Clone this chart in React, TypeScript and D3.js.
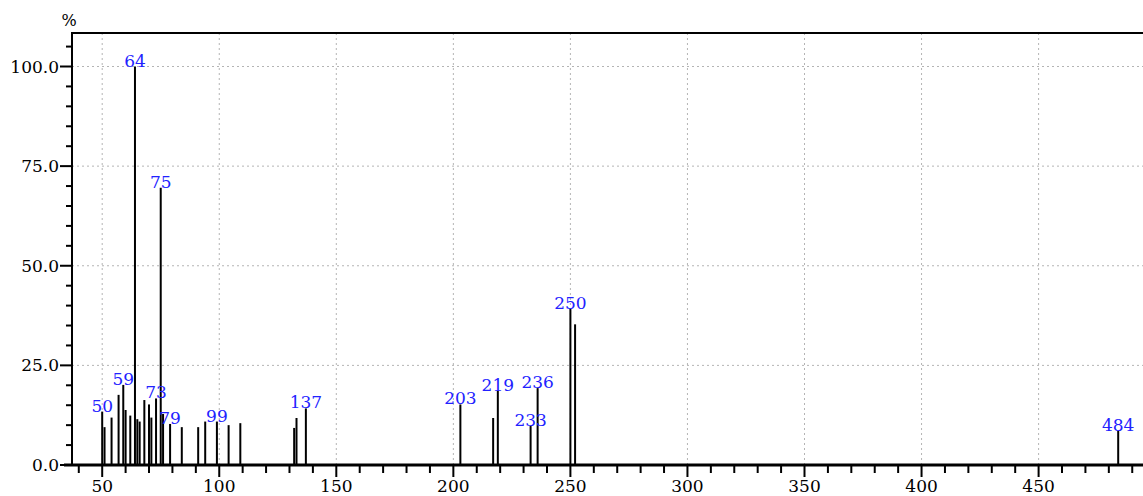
import React, { useRef, useEffect } from "react";
import * as d3 from "d3";

// peaks (m/z, relative intensity %)
const mz = [
  50, 51, 54, 57, 59, 60, 62, 64, 65, 66, 68, 70, 71, 73, 75, 76, 79, 84, 91,
  94, 99, 104, 109, 132, 133, 137, 203, 217, 219, 233, 236, 250, 252, 484,
];
const intensity = [
  13.4, 9.5, 11.9, 17.6, 20.1, 13.8, 12.4, 100, 11.5, 10.9, 16.3, 15.2, 11.9,
  16.7, 69.6, 12.8, 10.3, 9.5, 9.5, 10.9, 10.9, 10.0, 10.5, 9.3, 11.8, 14.2,
  15.2, 11.8, 18.6, 9.8, 19.3, 39.2, 35.3, 8.6,
];
const labelledPeaks = [50, 59, 64, 73, 75, 79, 99, 137, 203, 219, 233, 236, 250, 484];

const xTickValues = d3.range(40, 500, 10);
const xLabelValues = [50, 100, 150, 200, 250, 300, 350, 400, 450];
const yTickValues = d3.range(0, 110, 5);
const yLabelValues = [0, 25, 50, 75, 100];

const App = () => {
  const ref = useRef<SVGSVGElement>(null);

  useEffect(() => {
    const svg = d3.select(ref.current);
    svg.selectAll("*").remove();

    const width = 1143;
    const left = 72;
    const top = 33;
    const bottom = 465;
    const font = '"DejaVu Serif", "Liberation Serif", serif';

    const peaks = mz.map((m, i) => ({ m, v: intensity[i] }));

    const xScale = d3.scaleLinear().domain([50, 450]).range([102.2, 1038.6]);
    const yScale = d3.scaleLinear().domain([0, 100]).range([bottom, 66.5]);

    // grid
    svg
      .append("g")
      .selectAll("line")
      .data(xLabelValues)
      .join("line")
      .attr("x1", (d) => xScale(d))
      .attr("x2", (d) => xScale(d))
      .attr("y1", top)
      .attr("y2", bottom)
      .attr("stroke", "#b4b4b4")
      .attr("stroke-dasharray", "2 3");

    svg
      .append("g")
      .selectAll("line")
      .data(yLabelValues.filter((d) => d > 0))
      .join("line")
      .attr("x1", left)
      .attr("x2", width)
      .attr("y1", (d) => yScale(d))
      .attr("y2", (d) => yScale(d))
      .attr("stroke", "#b4b4b4")
      .attr("stroke-dasharray", "2 3");

    // frame
    svg
      .append("line")
      .attr("x1", left)
      .attr("x2", width)
      .attr("y1", top)
      .attr("y2", top)
      .attr("stroke", "#000")
      .attr("stroke-width", 2);
    svg
      .append("line")
      .attr("x1", left)
      .attr("x2", left)
      .attr("y1", top - 1)
      .attr("y2", bottom + 1)
      .attr("stroke", "#000")
      .attr("stroke-width", 2);

    // y ticks
    svg
      .append("g")
      .selectAll("line")
      .data(yTickValues)
      .join("line")
      .attr("x1", (d) => (d % 25 === 0 ? 60 : 66))
      .attr("x2", left)
      .attr("y1", (d) => yScale(d))
      .attr("y2", (d) => yScale(d))
      .attr("stroke", "#000")
      .attr("stroke-width", 2);

    svg
      .append("g")
      .selectAll("text")
      .data(yLabelValues)
      .join("text")
      .attr("x", 59)
      .attr("y", (d) => yScale(d) + 6)
      .attr("text-anchor", "end")
      .style("font-family", font)
      .style("font-size", "17px")
      .attr("fill", "#000")
      .text((d) => d.toFixed(1));

    svg
      .append("text")
      .attr("x", 69)
      .attr("y", 26)
      .attr("text-anchor", "middle")
      .style("font-family", font)
      .style("font-size", "16px")
      .text("%");

    // peaks
    svg
      .append("g")
      .selectAll("line")
      .data(peaks)
      .join("line")
      .attr("x1", (d) => xScale(d.m))
      .attr("x2", (d) => xScale(d.m))
      .attr("y1", bottom)
      .attr("y2", (d) => yScale(d.v))
      .attr("stroke", "#000")
      .attr("stroke-width", 2);

    // x axis
    svg
      .append("line")
      .attr("x1", 64)
      .attr("x2", width)
      .attr("y1", bottom)
      .attr("y2", bottom)
      .attr("stroke", "#000")
      .attr("stroke-width", 3);

    svg
      .append("g")
      .selectAll("line")
      .data(xTickValues)
      .join("line")
      .attr("x1", (d) => xScale(d))
      .attr("x2", (d) => xScale(d))
      .attr("y1", bottom)
      .attr("y2", (d) => (d % 50 === 0 ? 477 : 473))
      .attr("stroke", "#000")
      .attr("stroke-width", 2);

    svg
      .append("g")
      .selectAll("text")
      .data(xLabelValues)
      .join("text")
      .attr("x", (d) => xScale(d))
      .attr("y", 492)
      .attr("text-anchor", "middle")
      .style("font-family", font)
      .style("font-size", "17px")
      .attr("fill", "#000")
      .text((d) => d);

    // peak labels
    svg
      .append("g")
      .selectAll("text")
      .data(peaks.filter((d) => labelledPeaks.includes(d.m)))
      .join("text")
      .attr("x", (d) => xScale(d.m))
      .attr("y", (d) => yScale(d.v))
      .attr("text-anchor", "middle")
      .style("font-family", font)
      .style("font-size", "17px")
      .attr("fill", "#2222ff")
      .text((d) => d.m);
  }, []);

  return (
    <svg
      ref={ref}
      width={1143}
      height={496}
      style={{ position: "absolute", left: 0, top: 0, background: "#fff" }}
    ></svg>
  );
};

export default App;
